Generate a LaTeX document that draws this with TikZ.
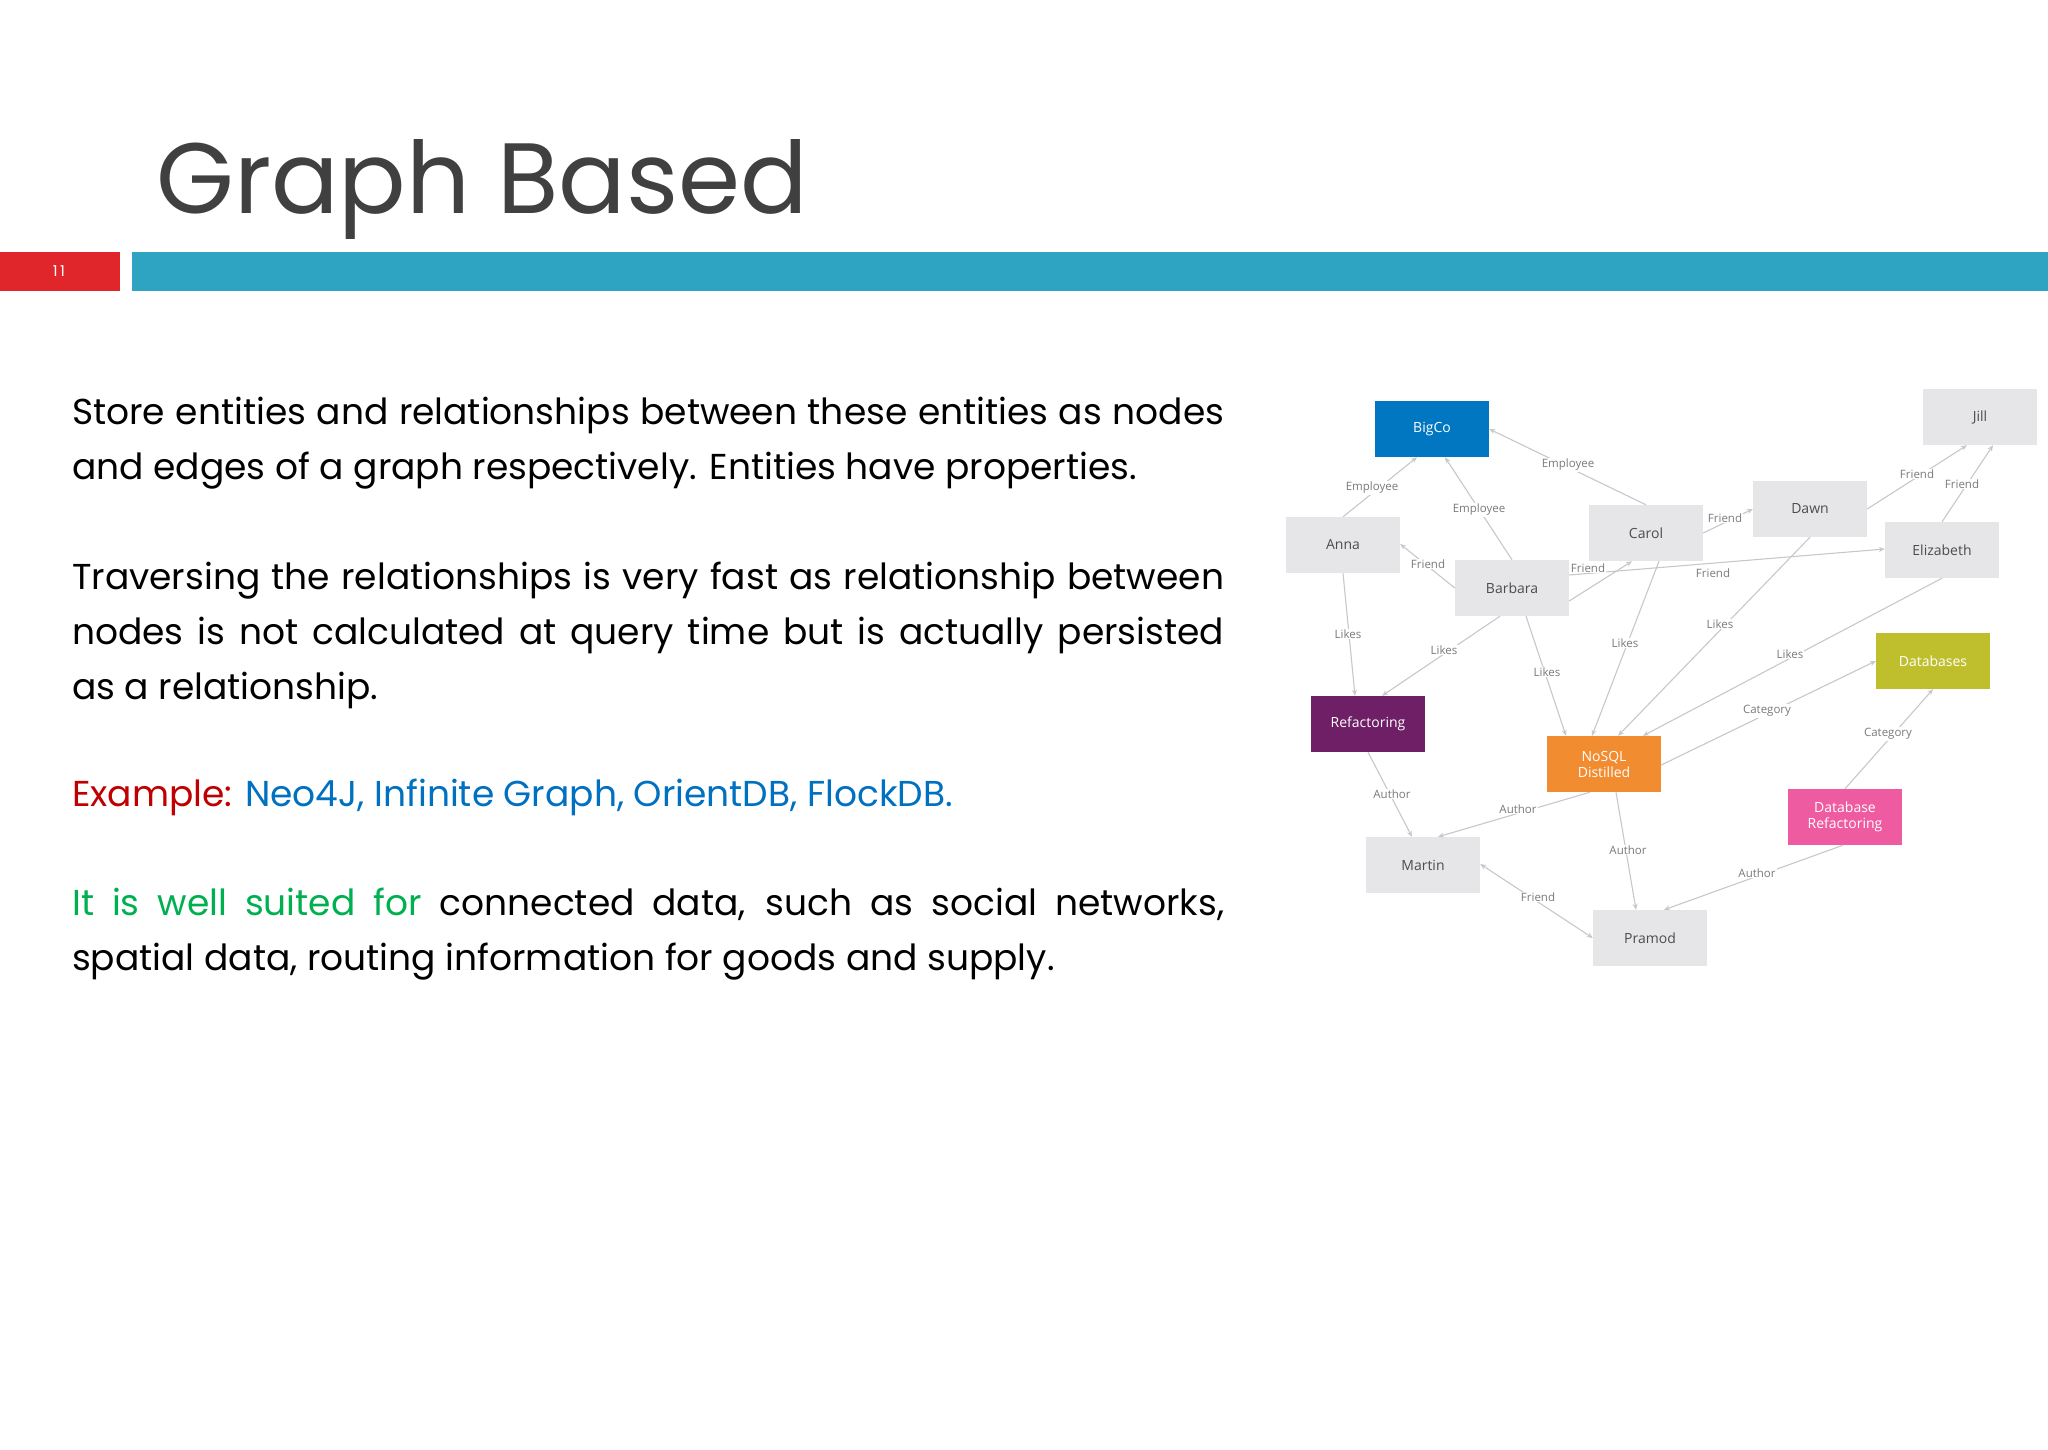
\documentclass[tikz,border=0pt]{standalone}
\usepackage{fontspec}
\setmainfont{Poppins}
\newfontfamily\gfont{Open Sans}
\usetikzlibrary{arrows.meta}
\definecolor{teal}{HTML}{2FA3C2}
\definecolor{redbar}{HTML}{E0262B}
\definecolor{ttl}{HTML}{404040}
\definecolor{exred}{HTML}{C00000}
\definecolor{exblue}{HTML}{0070C0}
\definecolor{exgreen}{HTML}{00B050}
\definecolor{ngray}{HTML}{E6E6E8}
\definecolor{egray}{HTML}{C8C8C8}
\definecolor{lgray}{HTML}{7A7A7A}
\tikzset{
 gnode/.style={draw=none,minimum width=114pt,minimum height=56pt,inner sep=0pt,font=\gfont\fontsize{14}{16}\selectfont,align=center},
 person/.style={gnode,fill=ngray,text=black!70},
 edge/.style={draw=egray,line width=1.1pt,-{Stealth[length=6pt,width=5pt]}},
 lbl/.style={fill=white,inner sep=1pt,text=lgray,font=\gfont\fontsize{11.5}{13}\selectfont},
 body/.style={anchor=base west,inner sep=0pt,font=\fontsize{36}{40}\selectfont}
}
\begin{document}
\begin{tikzpicture}[x=1pt,y=-1pt]
\useasboundingbox (0,0) rectangle (2048,1449);
\fill[white] (0,0) rectangle (2048,1449);
\node[anchor=base west,inner sep=0pt,text=ttl,font=\fontsize{100}{110}\selectfont] (title) at (156,213) {Graph Based};
\fill[redbar] (0,252) rectangle (120,291);
\fill[teal] (132,252) rectangle (2048,291);
\node[text=white,font=\fontsize{15}{16}\selectfont] (num) at (59,271) {1\,1};
% body
\node[body] (l1) at (72,424) {\makebox[1152pt][s]{Store entities and relationships between these entities as nodes}};
\node[body] (l2) at (72,479) {and edges of a graph respectively. Entities have properties.};
\node[body] (l3) at (72,589) {\makebox[1152pt][s]{Traversing the relationships is very fast as relationship between}};
\node[body] (l4) at (72,644) {\makebox[1152pt][s]{nodes is not calculated at query time but is actually persisted}};
\node[body] (l5) at (72,699) {as a relationship.};
\node[body] (l6) at (72,806) {\textcolor{exred}{Example:} \textcolor{exblue}{Neo4J, Infinite Graph, OrientDB, FlockDB.}};
\node[body] (l7) at (72,915) {\makebox[1152pt][s]{\textcolor{exgreen}{It is well suited for} connected data, such as social networks,}};
\node[body] (l8) at (72,970) {spatial data, routing information for goods and supply.};
% graph nodes
\node[gnode,fill={rgb,255:red,0;green,119;blue,192},text=white] (bigco) at (1432,429) {BigCo};
\node[person] (anna) at (1343,545) {Anna};
\node[person] (barbara) at (1512,588) {Barbara};
\node[person] (carol) at (1646,533) {Carol};
\node[person] (dawn) at (1810,509) {Dawn};
\node[person] (jill) at (1980,417) {Jill};
\node[person] (eliz) at (1942,550) {Elizabeth};
\node[gnode,fill={rgb,255:red,191;green,191;blue,46},text=white] (db) at (1933,661) {Databases};
\node[gnode,fill={rgb,255:red,110;green,31;blue,102},text=white] (ref) at (1368,724) {Refactoring};
\node[gnode,fill={rgb,255:red,242;green,140;blue,48},text=white] (nosql) at (1604,764) {NoSQL\\Distilled};
\node[person] (martin) at (1423,865) {Martin};
\node[person] (pramod) at (1650,938) {Pramod};
\node[gnode,fill={rgb,255:red,238;green,91;blue,160},text=white] (dbr) at (1845,817) {Database\\Refactoring};
% edges
\draw[edge] (anna.north) -- ([xshift=-15pt]bigco.south);
\draw[edge] (barbara.north) -- ([xshift=13pt]bigco.south);
\draw[edge] (carol.north) -- (bigco.east);
\draw[edge] (barbara.west) -- ([yshift=1pt]anna.east);
\draw[edge] ([yshift=-13pt]barbara.east) -- ([xshift=-14pt]carol.south);
\draw[edge] ([yshift=13pt]barbara.east) -- ([yshift=1pt]eliz.west);
\draw[edge] (carol.east) -- (dawn.west);
\draw[edge] (dawn.east) -- ([xshift=-13pt]jill.south);
\draw[edge] (eliz.north) -- ([xshift=13pt]jill.south);
\draw[edge] (anna.south) -- ([xshift=-13pt]ref.north);
\draw[edge] ([xshift=-12pt]barbara.south) -- ([xshift=14pt]ref.north);
\draw[edge] ([xshift=14pt]barbara.south) -- ([xshift=-38pt]nosql.north);
\draw[edge] ([xshift=13pt]carol.south) -- ([xshift=-12pt]nosql.north);
\draw[edge] (dawn.south) -- ([xshift=14pt]nosql.north);
\draw[edge] (eliz.south) -- ([xshift=39pt]nosql.north);
\draw[edge] ([yshift=-1pt]nosql.east) -- (db.west);
\draw[edge] (dbr.north) -- (db.south);
\draw[edge] (ref.south) -- ([xshift=-11pt]martin.north);
\draw[edge] ([xshift=-14pt]nosql.south) -- ([xshift=15pt]martin.north);
\draw[edge] ([xshift=12pt]nosql.south) -- ([xshift=-14pt]pramod.north);
\draw[edge] ([xshift=-2pt]dbr.south) -- ([xshift=14pt]pramod.north);
\draw[edge,{Stealth[length=6pt,width=5pt]}-{Stealth[length=6pt,width=5pt]}] ([yshift=1pt]martin.east) -- (pramod.west);
% labels
\node[lbl] (e1) at (1372,488) {Employee};
\node[lbl] (e2) at (1479,510) {Employee};
\node[lbl] (e3) at (1568,465) {Employee};
\node[lbl] (f1) at (1428,564) {Friend};
\node[lbl] (f2) at (1588,568) {Friend};
\node[lbl] (f3) at (1713,573) {Friend};
\node[lbl] (f4) at (1725,518) {Friend};
\node[lbl] (f5) at (1917,474) {Friend};
\node[lbl] (f6) at (1962,484) {Friend};
\node[lbl] (k1) at (1348,634) {Likes};
\node[lbl] (k2) at (1444,650) {Likes};
\node[lbl] (k3) at (1547,672) {Likes};
\node[lbl] (k4) at (1625,643) {Likes};
\node[lbl] (k5) at (1720,624) {Likes};
\node[lbl] (k6) at (1790,654) {Likes};
\node[lbl] (c1) at (1767,711) {Category};
\node[lbl] (c2) at (1888,734) {Category};
\node[lbl] (a1) at (1392,794) {Author};
\node[lbl] (a2) at (1518,809) {Author};
\node[lbl] (a3) at (1628,850) {Author};
\node[lbl] (f7) at (1538,897) {Friend};
\node[lbl] (a4) at (1757,873) {Author};
\end{tikzpicture}
\end{document}
